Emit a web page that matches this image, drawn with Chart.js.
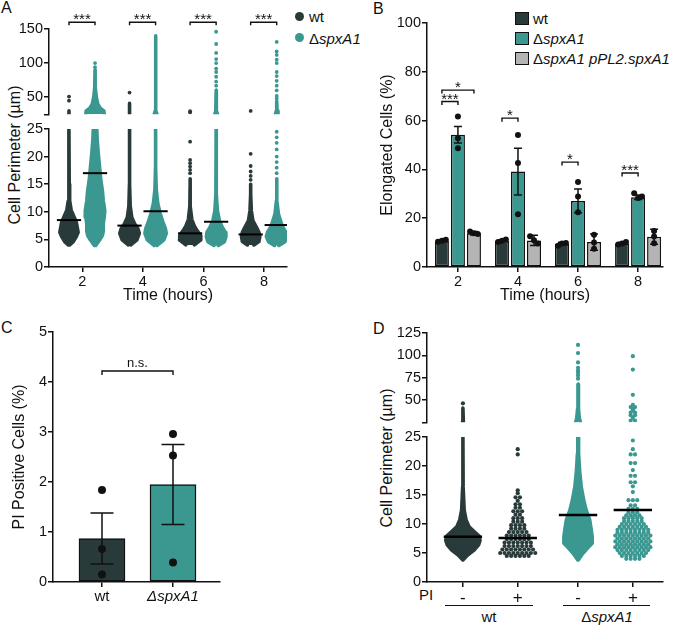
<!DOCTYPE html>
<html>
<head>
<meta charset="utf-8">
<title>spxA1 cell morphology</title>
<script src="https://cdn.jsdelivr.net/npm/chart.js@4.4.1/dist/chart.umd.min.js"></script>
<style>
  body { margin: 0; width: 675px; height: 627px; position: relative; overflow: hidden; background: #fff;
         font-family: 'Liberation Sans', Arial, Helvetica, sans-serif; color: #111; }
  canvas { position: absolute; }
  .lbl { position: absolute; font-size: 15px; line-height: 15px; white-space: nowrap; }
  .panel { position: absolute; font-size: 16px; line-height: 16px; }
  .ytitle { position: absolute; font-size: 16px; line-height: 16px; white-space: nowrap; transform: translate(-50%, -50%) rotate(-90deg); }
  .dot { position: absolute; width: 9px; height: 9px; border-radius: 50%; }
  .box { position: absolute; width: 12px; height: 11px; border: 1.5px solid #111; }
  .rule { position: absolute; height: 0; border-top: 1.2px solid #111; }
</style>
</head>
<body>
<div class="panel" style="left:1px;top:0px">A</div>
<div class="panel" style="left:373px;top:1px">B</div>
<div class="panel" style="left:1px;top:320px">C</div>
<div class="panel" style="left:373px;top:321px">D</div>

<div class="ytitle" style="left:15px;top:155px">Cell Perimeter (µm)</div>
<div class="ytitle" style="left:387px;top:458px">Cell Perimeter (µm)</div>

<div class="dot" style="left:295px;top:12px;background:#283a39"></div>
<div class="lbl" style="left:309px;top:9px">wt</div>
<div class="dot" style="left:295px;top:33px;background:#3a9891"></div>
<div class="lbl" style="left:309px;top:31px">Δ<i>spxA1</i></div>

<div class="box" style="left:515px;top:12px;background:#283a39"></div>
<div class="lbl" style="left:533px;top:11px">wt</div>
<div class="box" style="left:515px;top:32px;background:#3a9891"></div>
<div class="lbl" style="left:533px;top:31px">Δ<i>spxA1</i></div>
<div class="box" style="left:515px;top:52px;background:#b4b4b4"></div>
<div class="lbl" style="left:533px;top:51px">Δ<i>spxA1 pPL2.spxA1</i></div>

<div class="lbl" style="left:419px;top:587px">PI</div>
<div class="rule" style="left:445px;top:605px;width:88px"></div>
<div class="rule" style="left:563px;top:605px;width:87px"></div>
<div class="lbl" style="left:489px;top:609px;transform:translateX(-50%)">wt</div>
<div class="lbl" style="left:607px;top:609px;transform:translateX(-50%)">Δ<i>spxA1</i></div>

<script>
const dark = '#283a39';
const teal = '#3a9891';
const grey = '#b4b4b4';

// ---- Panel A: cell perimeter over time (swarm outlines are [value, half-width in x units]) ----
const aTimes = [2, 4, 6, 8];
const aLowTicks = [0, 5, 10, 15, 20, 25];
const aHighTicks = [25, 50, 100, 150];
const aMeanWt = [8.5, 7.5, 6.1, 5.9];
const aMeanSp = [17.0, 10.1, 8.2, 7.6];
const aWtLow = [
    [[4.0, 0.08], [4.6, 0.2], [5.5, 0.3], [6.3, 0.36], [7.2, 0.33], [8.1, 0.3], [9.0, 0.23], [10.3, 0.13], [12, 0.08], [15, 0.066], [25, 0.056]],
    [[4.0, 0.1], [4.9, 0.3], [6.1, 0.38], [7.0, 0.33], [7.8, 0.23], [9.0, 0.13], [11, 0.08], [15, 0.06], [25, 0.056]],
    [[4.0, 0.2], [4.9, 0.41], [5.7, 0.4], [6.5, 0.3], [7.4, 0.2], [8.6, 0.115], [11, 0.066], [14.5, 0.056], [16, 0.056]],
    [[4.0, 0.165], [4.6, 0.33], [5.5, 0.36], [6.3, 0.33], [7.2, 0.25], [8.4, 0.13], [10.2, 0.08], [13.2, 0.056], [15, 0.056]]
];
const aSpLow = [
    [[3.9, 0.08], [4.9, 0.21], [5.7, 0.3], [6.5, 0.33], [7.8, 0.33], [9.0, 0.36], [10.2, 0.38], [12, 0.33], [13.9, 0.3], [15.7, 0.25], [18, 0.21], [20.6, 0.165], [23, 0.13], [25, 0.115]],
    [[3.9, 0.1], [4.9, 0.33], [6.1, 0.41], [7.0, 0.38], [8.1, 0.3], [9.7, 0.21], [11.5, 0.13], [14, 0.08], [18, 0.06], [25, 0.056]],
    [[3.9, 0.13], [4.6, 0.33], [5.5, 0.38], [6.3, 0.36], [7.2, 0.26], [8.4, 0.165], [10.2, 0.1], [13.2, 0.066], [25, 0.056]],
    [[3.9, 0.13], [4.6, 0.33], [5.5, 0.4], [6.3, 0.36], [7.2, 0.26], [8.1, 0.2], [9.6, 0.115], [12, 0.066], [16, 0.056]]
];
const aWtLowDots = [[], [], [17, 17.6, 18.2, 18.8, 19.4, 22.7], [15.8, 16.5, 17.3, 18.3, 20.5]];
const aSpLowDots = [[], [], [], [17, 18, 19, 20, 21.3, 22.5, 23.5, 24.5]];
const aWtHigh = [[[25.5, 0.056], [30, 0.056]], [[25.5, 0.056], [41, 0.056]], null, null];
const aWtHighDots = [[45, 51], [56.8], [27.5, 29.5], [30]];
const aSpHigh = [
    [[25.5, 0.36], [30, 0.35], [34, 0.23], [40, 0.15], [50, 0.1], [65, 0.066], [90, 0.056]],
    [[25.5, 0.1], [30, 0.07], [140, 0.056]],
    [[25.5, 0.1], [30, 0.07], [60, 0.056]],
    [[25.5, 0.1], [30, 0.07], [44, 0.056]]
];
const aSpHighDots = [[94, 100], [], [67, 73, 80, 87, 92, 100, 106, 115, 128, 146], [48, 52, 60, 67, 74, 81, 87, 100, 105, 112, 117, 131]];
const aStars = ['***', '***', '***', '***'];

// ---- Panel B: elongated cells (%) ----
const bTimes = [2, 4, 6, 8];
const bTicksY = [0, 20, 40, 60, 80, 100];
const bWtMean = [10.7, 10.7, 9.5, 9.6];
const bWtErr = [0.4, 0.4, 0.6, 0.4];
const bSpMean = [54.2, 39.1, 27.1, 28.6];
const bSpErr = [3.4, 9.6, 4.9, 0.9];
const bCompMean = [13.8, 10.9, 10.2, 12.4];
const bCompErr = [0.7, 2.1, 3.3, 3.1];
const bWtDots = [[10.3, 10.8, 11.2], [10.2, 10.8, 11.3], [8.7, 9.6, 9.8], [9.2, 9.6, 10.2]];
const bSpDots = [[61.7, 52.8, 48.7], [54.1, 42.6, 21.6], [34.8, 28.9, 22.4], [30.2, 28.3, 28.9]];
const bCompDots = [[14.5, 13.8, 13.5], [12.6, 11.0, 9.6], [13.2, 10.0, 7.5], [14.8, 12.5, 9.7]];
const bBrackets = [
    { x1: 1.467, x2: 2, y: 67.8, label: '***' },
    { x1: 1.467, x2: 2.533, y: 72.5, label: '*' },
    { x1: 3.467, x2: 4, y: 61, label: '*' },
    { x1: 5.467, x2: 6, y: 43, label: '*' },
    { x1: 7.467, x2: 8, y: 38.5, label: '***' }
];

// ---- Panel C: PI positive cells (%) ----
const cStrains = ['wt', 'ΔspxA1'];
const cTicksY = [0, 1, 2, 3, 4, 5];
const cMean = [0.87, 1.95];
const cErr = [0.51, 0.8];
const cDots = [[1.84, 0.66, 0.15], [2.96, 2.53, 0.39]];

// ---- Panel D: cell perimeter by PI staining ----
const dGroups = [1, 2, 3.1, 4.1];
const dTickLabels = ['-', '+', '-', '+'];
const dLowTicks = [0, 5, 10, 15, 20, 25];
const dHighTicks = [25, 50, 75, 100, 125];
const dMeans = [7.8, 7.6, 11.55, 12.4];
const dWtNegLow = [[3.8, 0.031], [4.65, 0.118], [5.5, 0.236], [6.4, 0.318], [7.2, 0.345], [7.9, 0.327], [8.7, 0.236], [9.5, 0.145], [10.7, 0.09], [12.4, 0.055], [16.4, 0.036], [25, 0.031]];
const dWtNegHigh = [[25.5, 0.04], [41, 0.031]];
const dWtNegHighDots = [46.3];
const dSpNegLow = [[3.8, 0.036], [4.9, 0.118], [5.9, 0.21], [6.7, 0.29], [7.8, 0.29], [9.0, 0.273], [10.7, 0.245], [12.4, 0.18], [14.1, 0.136], [16.4, 0.09], [19.3, 0.06], [22.2, 0.042], [25, 0.036]];
const dSpNegHigh = [[25.5, 0.073], [30, 0.055], [40, 0.04], [67.6, 0.033]];
const dSpNegHighDots = [73.8, 77.5, 80.5, 83, 86, 92, 102.5, 111.7];
// [value, number of cells in that row]
const dWtPosRows = [[4.5, 6], [5.0, 9], [5.6, 8], [6.2, 7], [6.8, 7], [7.4, 6], [8.0, 6], [8.6, 5], [9.2, 4], [9.8, 4], [10.4, 3], [11.0, 3], [11.6, 2], [12.2, 3], [12.8, 2], [13.4, 2], [14.0, 1], [14.6, 2], [15.3, 1], [15.8, 1], [22.0, 1], [22.9, 1]];
const dSpPosRows = [[4.0, 4], [4.5, 6], [5.0, 7], [5.5, 8], [6.0, 9], [6.5, 8], [7.0, 9], [7.5, 8], [8.0, 9], [8.5, 8], [9.0, 8], [9.5, 7], [10.0, 6], [10.5, 5], [11.0, 5], [11.5, 4], [12.0, 3], [12.6, 3], [13.2, 2], [14.1, 3], [15.5, 1], [16.5, 1], [17.2, 2], [18.3, 2], [19.3, 1], [20.5, 2], [22.0, 2], [22.9, 1], [24.4, 1]];
const dSpPosHighRows = [[27, 2], [30, 1], [33, 2], [36, 2], [38.5, 1], [40, 1], [42, 2], [44.5, 1], [55.8, 1], [84, 1], [99, 1]];

Chart.defaults.font.family = "'Liberation Sans', Arial, Helvetica, sans-serif";
Chart.defaults.font.size = 14.5;
Chart.defaults.color = '#111';
Chart.defaults.animation = false;
Chart.defaults.plugins.legend.display = false;
Chart.defaults.plugins.tooltip.enabled = false;

function makeChart(geo, config) {
    const c = document.createElement('canvas');
    c.width = geo.w;
    c.height = geo.h;
    c.style.left = geo.x + 'px';
    c.style.top = geo.y + 'px';
    c.style.width = geo.w + 'px';
    c.style.height = geo.h + 'px';
    document.body.appendChild(c);
    config.options = Object.assign({ responsive: false, devicePixelRatio: 1, animation: false }, config.options);
    return new Chart(c, config);
}

function axis(min, max, ticks, size, labelFn, fontSize, titleText) {
    return {
        type: 'linear', min, max, offset: false,
        afterBuildTicks: s => { s.ticks = ticks.map(v => ({ value: v })); },
        afterFit: s => { if (s.isHorizontal()) s.height = size; else s.width = size; },
        grid: { drawOnChartArea: false, offset: false, color: '#111', lineWidth: 1.5, tickLength: 5 },
        border: { color: '#111', width: 1.5 },
        ticks: {
            padding: 1, color: '#111', font: fontSize,
            callback: labelFn || (v => v)
        },
        title: titleText ? { display: true, text: titleText, font: { size: 16 }, color: '#111', padding: { top: 1, bottom: 0 } } : { display: false }
    };
}

function swarm(cx, prof, color, inset) {
    const left = prof.map(p => ({ x: cx - Math.max(p[1] - inset, 0), y: p[0] }));
    const right = prof.slice().reverse().map(p => ({ x: cx + Math.max(p[1] - inset, 0), y: p[0] }));
    return {
        type: 'line', data: left.concat(right), order: 3, fill: 'shape',
        backgroundColor: color, borderColor: color, borderWidth: 3.6,
        borderJoinStyle: 'round', borderCapStyle: 'round', pointRadius: 0, tension: 0
    };
}

function dots(cx, values, color, r) {
    return {
        type: 'scatter', data: values.map(v => ({ x: cx, y: v })), order: 2,
        backgroundColor: color, borderWidth: 0, pointRadius: r
    };
}

function rows(cx, list, step, color, r) {
    const pts = [];
    list.forEach(([v, n]) => {
        for (let i = 0; i < n; i++) pts.push({ x: cx + (i - (n - 1) / 2) * step, y: v });
    });
    return { type: 'scatter', data: pts, order: 2, backgroundColor: color, borderWidth: 0, pointRadius: r };
}

function meanLine(cx, m, half, w) {
    return {
        type: 'line', data: [{ x: cx - half, y: m }, { x: cx + half, y: m }], order: 1,
        borderColor: '#000', borderWidth: w, pointRadius: 0, fill: false
    };
}

function bracketPlugin(items, drop, fontSize) {
    return {
        id: 'brackets',
        afterDraw(chart) {
            const ctx = chart.ctx, xs = chart.scales.x, ys = chart.scales.y;
            ctx.save();
            ctx.strokeStyle = '#111';
            ctx.fillStyle = '#111';
            ctx.lineWidth = 1.4;
            ctx.textAlign = 'center';
            ctx.textBaseline = 'alphabetic';
            items.forEach(b => {
                const x1 = xs.getPixelForValue(b.x1), x2 = xs.getPixelForValue(b.x2), y = ys.getPixelForValue(b.y);
                ctx.beginPath();
                ctx.moveTo(x1, y + drop);
                ctx.lineTo(x1, y);
                ctx.lineTo(x2, y);
                ctx.lineTo(x2, y + drop);
                ctx.stroke();
                const stars = b.label.indexOf('*') >= 0;
                ctx.font = (stars ? fontSize + 2 : fontSize) + "px 'Liberation Sans', Arial, sans-serif";
                ctx.fillText(b.label, (x1 + x2) / 2, y - (stars ? -2 : 4));
            });
            ctx.restore();
        }
    };
}

const errorBars = {
    id: 'errorBars',
    afterDatasetDraw(chart, args) {
        const ds = chart.data.datasets[args.index];
        if (!ds.errors) return;
        const ctx = chart.ctx, ys = chart.scales.y;
        ctx.save();
        ctx.strokeStyle = '#111';
        ctx.lineWidth = 1.5;
        args.meta.data.forEach((bar, i) => {
            const m = ds.data[i].y, e = ds.errors[i], cap = ds.capWidth / 2;
            const top = ys.getPixelForValue(m + e), bot = ys.getPixelForValue(m - e);
            ctx.beginPath();
            ctx.moveTo(bar.x, top); ctx.lineTo(bar.x, bot);
            ctx.moveTo(bar.x - cap, top); ctx.lineTo(bar.x + cap, top);
            ctx.moveTo(bar.x - cap, bot); ctx.lineTo(bar.x + cap, bot);
            ctx.stroke();
        });
        ctx.restore();
    }
};

function spread(values, cx, step, closeness) {
    let close = false;
    for (let i = 0; i < values.length; i++)
        for (let j = i + 1; j < values.length; j++)
            if (Math.abs(values[i] - values[j]) < closeness) close = true;
    return values.map((v, i) => ({ x: close ? cx + (i - 1) * step : cx, y: v }));
}

// ---------- Panel A ----------
const aWtOff = -0.44, aSpOff = 0.42;
const aLowSets = [], aHighSets = [];
aTimes.forEach((t, i) => {
    const cw = t + aWtOff, cs = t + aSpOff;
    aLowSets.push(swarm(cw, aWtLow[i], dark, 0.058));
    aLowSets.push(swarm(cs, aSpLow[i], teal, 0.058));
    aLowSets.push(dots(cw, aWtLowDots[i], dark, 1.9));
    aLowSets.push(dots(cs, aSpLowDots[i], teal, 1.9));
    aLowSets.push(meanLine(cw, aMeanWt[i], 0.4, 2));
    aLowSets.push(meanLine(cs, aMeanSp[i], 0.4, 2));
    if (aWtHigh[i]) aHighSets.push(swarm(cw, aWtHigh[i], dark, 0.058));
    aHighSets.push(swarm(cs, aSpHigh[i], teal, 0.058));
    aHighSets.push(dots(cw, aWtHighDots[i], dark, 1.9));
    aHighSets.push(dots(cs, aSpHighDots[i], teal, 1.9));
});

makeChart({ x: 9, y: 119, w: 286, h: 186 }, {
    type: 'scatter',
    data: { datasets: aLowSets },
    options: {
        layout: { padding: { left: 0, top: 10, right: 8, bottom: 0 } },
        scales: {
            x: axis(0.9, 8.76, aTimes, 38, null, { size: 14.5 }, 'Time (hours)'),
            y: axis(0, 25, aLowTicks, 40, null, { size: 14.5 })
        }
    }
});

makeChart({ x: 9, y: 0, w: 286, h: 124 }, {
    type: 'scatter',
    data: { datasets: aHighSets },
    options: {
        layout: { padding: { left: 0, top: 29, right: 8, bottom: 9 } },
        scales: {
            x: Object.assign(axis(0.9, 8.76, aTimes, 0), { display: false }),
            y: axis(25, 150, aHighTicks, 40, v => (v === 25 ? '' : v), { size: 14.5 })
        }
    },
    plugins: [bracketPlugin(aTimes.map((t, i) => ({ x1: t + aWtOff, x2: t + aSpOff, y: 160, label: aStars[i] })), 3, 13)]
});

// ---------- Panel B ----------
const bOff = 0.533;
const bDotPts = [];
bTimes.forEach((t, i) => {
    bDotPts.push(...spread(bWtDots[i], t - bOff, 0.13, 2));
    bDotPts.push(...spread(bSpDots[i], t, 0.13, 2));
    bDotPts.push(...spread(bCompDots[i], t + bOff, 0.13, 2));
});
function barSet(label, means, errs, color) {
    return {
        label, data: bTimes.map((t, i) => ({ x: t, y: means[i] })), errors: errs, capWidth: 8,
        backgroundColor: color, borderColor: '#111', borderWidth: 1.5, borderSkipped: false,
        categoryPercentage: 0.8, barPercentage: 0.875, order: 2
    };
}

makeChart({ x: 377, y: 13, w: 294, h: 292 }, {
    type: 'bar',
    data: {
        datasets: [
            barSet('wt', bWtMean, bWtErr, dark),
            barSet('ΔspxA1', bSpMean, bSpErr, teal),
            barSet('ΔspxA1 pPL2.spxA1', bCompMean, bCompErr, grey),
            { type: 'scatter', data: bDotPts, backgroundColor: '#111', borderWidth: 0, pointRadius: 3, order: 1 }
        ]
    },
    options: {
        layout: { padding: { left: 0, top: 10, right: 8, bottom: 0 } },
        scales: {
            x: axis(0.97, 8.83, bTimes, 38, null, { size: 14.5 }, 'Time (hours)'),
            y: axis(0, 100, bTicksY, 50, null, { size: 14.5 }, 'Elongated Cells (%)')
        }
    },
    plugins: [errorBars, bracketPlugin(bBrackets, 3.5, 13)]
});

// ---------- Panel C ----------
const cDotPts = [];
cDots.forEach((vals, i) => vals.forEach(v => cDotPts.push({ x: i + 1, y: v })));

makeChart({ x: 9, y: 322, w: 219, h: 285 }, {
    type: 'bar',
    data: {
        datasets: [
            {
                data: cMean.map((m, i) => ({ x: i + 1, y: m })), errors: cErr, capWidth: 23,
                backgroundColor: [dark, teal], borderColor: '#111', borderWidth: 1.5, borderSkipped: false,
                barThickness: 46, order: 2
            },
            { type: 'scatter', data: cDotPts, backgroundColor: '#111', borderWidth: 0, pointRadius: 4, order: 1 }
        ]
    },
    options: {
        layout: { padding: { left: 0, top: 10, right: 8, bottom: 0 } },
        scales: {
            x: axis(0.31, 2.662, [1, 2], 25, (v, i) => cStrains[i],
                ctx => (ctx.index === 1 ? { size: 15, style: 'italic' } : { size: 15 })),
            y: axis(0, 5, cTicksY, 44, null, { size: 14.5 }, 'PI Positive Cells (%)')
        }
    },
    plugins: [errorBars, bracketPlugin([{ x1: 1, x2: 2, y: 4.22, label: 'n.s.' }], 4, 13)]
});

// ---------- Panel D ----------
const dLowSets = [
    swarm(dGroups[0], dWtNegLow, dark, 0.032),
    rows(dGroups[1], dWtPosRows, 0.08, dark, 2.1),
    swarm(dGroups[2], dSpNegLow, teal, 0.032),
    rows(dGroups[3], dSpPosRows, 0.08, teal, 2.1)
];
dMeans.forEach((m, i) => dLowSets.push(meanLine(dGroups[i], m, 0.35, 2.5)));
const dHighSets = [
    swarm(dGroups[0], dWtNegHigh, dark, 0.032),
    dots(dGroups[0], dWtNegHighDots, dark, 2.1),
    swarm(dGroups[2], dSpNegHigh, teal, 0.032),
    dots(dGroups[2], dSpNegHighDots, teal, 2.1),
    rows(dGroups[3], dSpPosHighRows, 0.08, teal, 2.1)
];

makeChart({ x: 387, y: 427, w: 284, h: 177 }, {
    type: 'scatter',
    data: { datasets: dLowSets },
    options: {
        layout: { padding: { left: 0, top: 10, right: 8, bottom: 0 } },
        scales: {
            x: axis(0.345, 4.65, dGroups, 22, (v, i) => dTickLabels[i], { size: 17 }),
            y: axis(0, 25, dLowTicks, 40, null, { size: 14.5 })
        }
    }
});

makeChart({ x: 387, y: 313, w: 284, h: 119 }, {
    type: 'scatter',
    data: { datasets: dHighSets },
    options: {
        layout: { padding: { left: 0, top: 20, right: 8, bottom: 9 } },
        scales: {
            x: Object.assign(axis(0.345, 4.65, dGroups, 0), { display: false }),
            y: axis(25, 125, dHighTicks, 40, v => (v === 25 ? '' : v), { size: 14.5 })
        }
    }
});
</script>
</body>
</html>
